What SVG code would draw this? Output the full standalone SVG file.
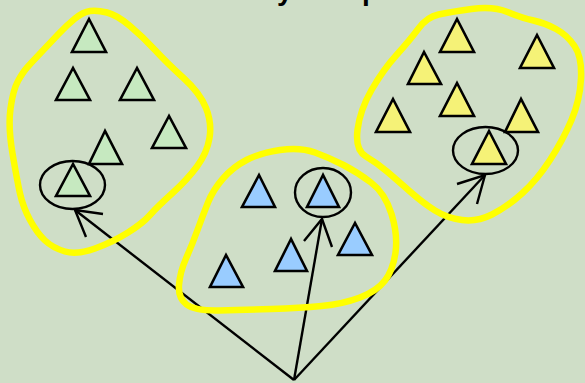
<svg xmlns="http://www.w3.org/2000/svg" width="585" height="383" viewBox="0 0 585 383">
<style>
.g{fill:#c6e9c0;stroke:#000;stroke-width:2.6;stroke-linejoin:miter}
.y{fill:#f5f277;stroke:#000;stroke-width:2.6}
.b{fill:#99ccff;stroke:#000;stroke-width:2.6}
.ring{fill:none;stroke:#000;stroke-width:2.4}
.blob{fill:none;stroke:#ffff00;stroke-width:6.5;stroke-linejoin:round}
.cn{fill:none;stroke:#000;stroke-width:2.4;stroke-linecap:butt}
.t{font-family:"Liberation Sans",Arial,sans-serif;font-weight:bold;font-size:28px;fill:#000}
</style>
<rect width="585" height="383" fill="#cfdec7"/>
<text class="t" x="277" y="0">y</text>
<text class="t" x="362" y="0">p</text>
<g id="connectors">
<line class="cn" x1="294" y1="380" x2="75" y2="210"/>
<polyline class="cn" points="103,214 75,210 86,237"/>
<line class="cn" x1="294" y1="380" x2="322" y2="219"/>
<polyline class="cn" points="304,241 322,219 332,247"/>
<line class="cn" x1="294" y1="380" x2="485" y2="175"/>
<polyline class="cn" points="457,184 485,175 477,204"/>
</g>
<g id="group-green">
<path class="blob" d="M 90,11 Q 97,10 107,12.5 Q 117,15 130,26 Q 143,37 155,50 Q 167,63 183.5,78 Q 200,93 206,108 Q 212,123 209.5,138 Q 207,153 197,166.5 Q 187,180 172,193.5 Q 157,207 150,215 Q 143,223 128,232.5 Q 113,242 95,248.5 Q 77,255 65,251.5 Q 53,248 45,240.5 Q 37,233 30,220 Q 23,207 20,193.5 Q 17,180 12.5,153.5 Q 8,127 10.5,108.5 Q 13,90 18,81 Q 23,72 27.5,67 Q 32,62 41,52.5 Q 50,43 58.5,34 Q 67,25 75,18.5 Q 83,12 90,11 Z"/>
</g>
<g id="group-blue">
<path class="blob" d="M 208,202.5 Q 213,190 223,178.5 Q 233,167 246.5,160 Q 260,153 280,150 Q 300,147 315,152.5 Q 330,158 343.5,165 Q 357,172 371,182.5 Q 385,193 391.5,214 Q 398,235 395.5,252.5 Q 393,270 385,280.5 Q 377,291 360,297.5 Q 343,304 321.5,306 Q 300,308 271.5,309 Q 243,310 219,310.5 Q 195,311 186.5,304.5 Q 178,298 179,285 Q 180,272 186,258.5 Q 192,245 197.5,230 Q 203,215 208,202.5 Z"/>
</g>
<g id="group-yellow">
<path class="blob" d="M 471.5,9 Q 493,6 507.5,12 Q 522,18 533.5,20.5 Q 545,23 556,29 Q 567,35 574.5,46 Q 582,57 581,78.5 Q 580,100 571.5,120 Q 563,140 550,160 Q 537,180 522,193.5 Q 507,207 492,214.5 Q 477,222 462,220 Q 447,218 435,210.5 Q 423,203 410,191.5 Q 397,180 387,171.5 Q 377,163 366,156.5 Q 355,150 357.5,130 Q 360,110 371.5,90 Q 383,70 396.5,55 Q 410,40 418.5,28.5 Q 427,17 438.5,14.5 Q 450,12 471.5,9 Z"/>
</g>
<g id="green-1"><polygon class="g" points="89,19 72,52 106,52"/></g>
<g id="green-2"><polygon class="g" points="73,68 56,100 90,100"/></g>
<g id="green-3"><polygon class="g" points="137,68 120,100 154,100"/></g>
<g id="green-4"><polygon class="g" points="169,116 152,148 186,148"/></g>
<g id="green-5"><polygon class="g" points="105,131 89,164 122,164"/></g>
<g id="green-6"><polygon class="g" points="73,164 56,196 90,196"/><ellipse class="ring" cx="72.5" cy="185" rx="32.5" ry="24"/></g>
<g id="yellow-1"><polygon class="y" points="457,19 440,52 474,52"/></g>
<g id="yellow-2"><polygon class="y" points="537,35 520,68 554,68"/></g>
<g id="yellow-3"><polygon class="y" points="424,52 408,84 441,84"/></g>
<g id="yellow-4"><polygon class="y" points="457,83 440,116 474,116"/></g>
<g id="yellow-5"><polygon class="y" points="393,99 376,132 410,132"/></g>
<g id="yellow-6"><polygon class="y" points="521,99 505,132 538,132"/></g>
<g id="yellow-7"><polygon class="y" points="489,131 472,164 506,164"/><ellipse class="ring" cx="485.5" cy="150.5" rx="32.5" ry="23.5"/></g>
<g id="blue-1"><polygon class="b" points="259,175 242,207 275,207"/></g>
<g id="blue-2"><polygon class="b" points="323,175 307,207 339,207"/><ellipse class="ring" cx="323" cy="192.5" rx="28" ry="24.5"/></g>
<g id="blue-3"><polygon class="b" points="355,223 338,255 372,255"/></g>
<g id="blue-4"><polygon class="b" points="291,239 275,271 307,271"/></g>
<g id="blue-5"><polygon class="b" points="226,255 210,287 243,287"/></g>
</svg>
